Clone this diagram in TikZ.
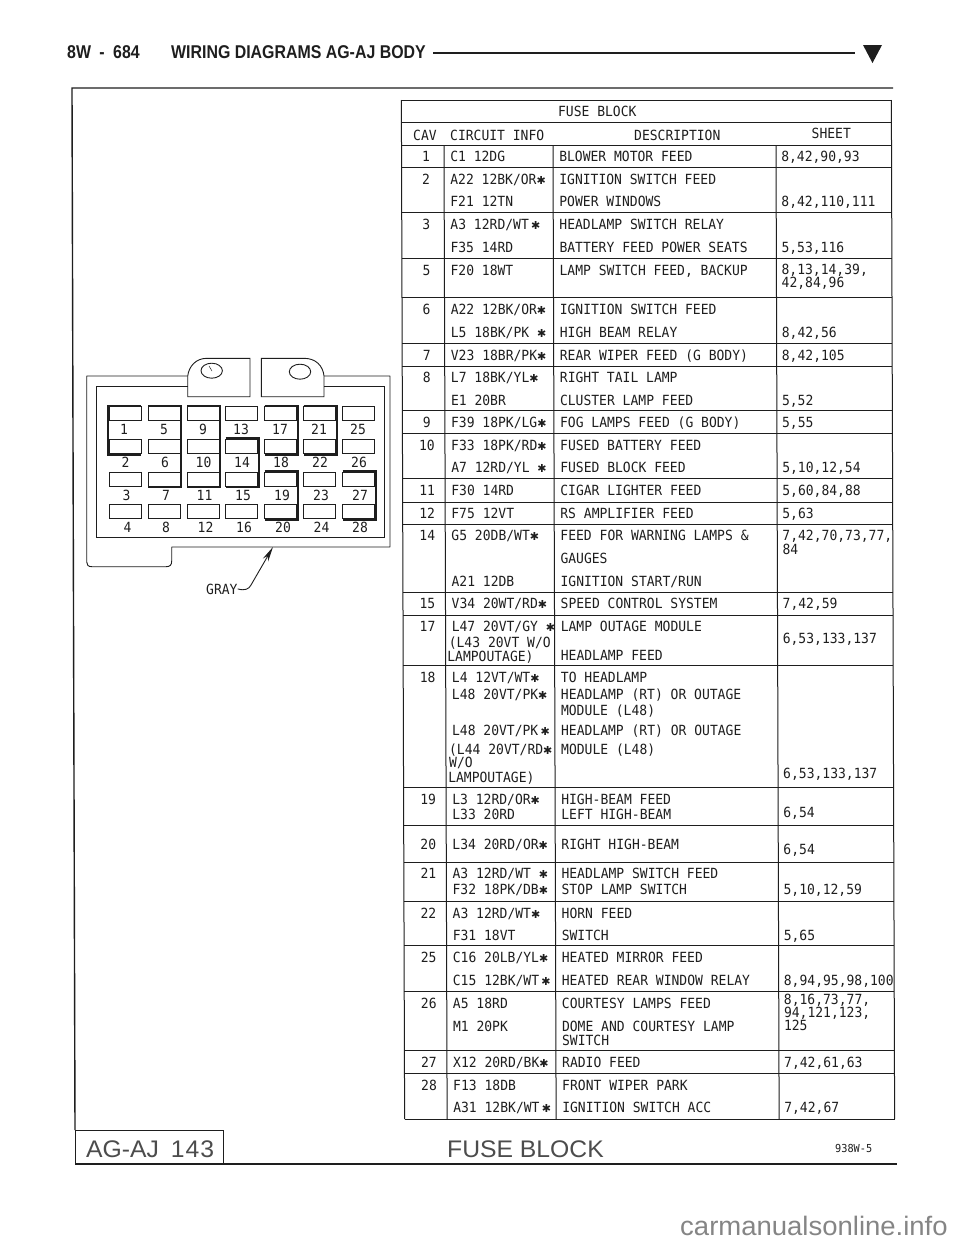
\documentclass[tikz,border=0pt]{standalone}
\usepackage{fontspec}
\usetikzlibrary{arrows.meta}
\newfontfamily\cad[FakeStretch=0.93]{DejaVu Sans Mono}
\newfontfamily\djv{DejaVu Sans}
\newfontfamily\hdr[FakeStretch=0.86]{Liberation Sans}
\newfontfamily\thinsans[FakeStretch=1.03]{Liberation Sans}
\newcommand\st{{\djv\fontsize{11}{11}\selectfont ✱}}
\newcount\tcnt
\newcommand\T[3]{\global\advance\tcnt 1 \node[cadt] (t\the\tcnt) at (#1,#2) {#3};}
\newcommand\C[2]{\global\advance\tcnt 1 \node[cadc] (t\the\tcnt) at (426,#1) {#2};}
\newcommand\A[2]{\T{450}{#1}{#2}}
\newcommand\B[2]{\T{559}{#1}{#2}}
\newcommand\D[2]{\T{781}{#1}{#2}}
\definecolor{ink}{HTML}{1E1E1E}
\tikzset{
  cadt/.style={inner sep=0pt,anchor=base west,text=ink,font=\cad\fontsize{14}{14}\selectfont},
  cadc/.style={inner sep=0pt,anchor=base,text=ink,font=\cad\fontsize{14}{14}\selectfont},
  rule/.style={draw=ink,line width=1pt},
  frameline/.style={draw=ink,line width=1.4pt},
  thick rule/.style={draw=ink,line width=2.1pt,line join=miter},
  slot/.style={draw=ink,line width=0.8pt},
  body/.style={draw=ink,line width=0.9pt},
}
\begin{document}
\begin{tikzpicture}[x=1pt,y=-1pt]
\fill[white] (0,0) rectangle (960,1242);
\useasboundingbox (0,0) rectangle (960,1242);
% page header
\node[inner sep=0,anchor=base west,text=ink,font=\hdr\bfseries\fontsize{18.5}{18.5}\selectfont] (h1) at (67,58) {8W\hspace{4pt} -\hspace{4pt} 684};
\node[inner sep=0,anchor=base west,text=ink,font=\hdr\bfseries\fontsize{18.5}{18.5}\selectfont] (h2) at (171,58) {WIRING DIAGRAMS AG-AJ BODY};
\coordinate (hlA) at (433,52.7);
\coordinate (hlB) at (855,52.7);
\draw[draw=ink,line width=2.4pt] (hlA) -- (hlB);
\fill[ink] (863,45) -- (882,45) -- (872.5,63) -- cycle;
% page frame
\draw[frameline] (893,88) -- (72,88) -- (75,1130);
\draw[frameline] (75,1164) -- (897,1164);
\draw[rule] (75,1130) rectangle (223.5,1164);
\node[inner sep=0,anchor=base west,text=black!70,font=\thinsans\fontsize{24}{24}\selectfont] (tb1) at (86,1157) {AG-AJ\hspace{5pt} 1\hspace{1pt}4\hspace{1pt}3};
\node[inner sep=0,anchor=base west,text=black!70,font=\thinsans\fontsize{24}{24}\selectfont] (tb2) at (447,1157) {FUSE BLOCK};
\node[inner sep=0,anchor=base west,text=ink,font=\cad\fontsize{11}{11}\selectfont] (tb3) at (835,1152) {938W-5};
\node[inner sep=0,anchor=base west,text=black!48,font=\thinsans\fontsize{26.7}{26.7}\selectfont] (wm) at (680,1235) {carmanualsonline.info};
% connector drawing
\begin{scope}
\draw[body,line join=round]
  (187.7,376) -- (86.7,376) -- (86.7,562)
  .. controls (86.7,565) and (88,566.7) .. (92,566.7)
  -- (166,566.7) .. controls (170,566.7) and (171.7,565) .. (171.7,561)
  -- (171.7,547) -- (390,547) -- (390,376) -- (324,376);
\draw[body] (187.7,386.7) -- (96,386.7) -- (96,537.3) -- (384.3,537.3) -- (384.3,386.7) -- (324,386.7);
\draw[body] (187.7,396.7) -- (187.7,376) .. controls (189,366) and (196,358.3) .. (207,358.3)
  -- (250,358.3) -- (250,396.7) -- cycle;
\draw[body] (261.3,358.3) -- (304,358.3) .. controls (316,358.3) and (323,366) .. (324,376)
  -- (324,396.7) -- (261.3,396.7) -- cycle;
\draw[body] (211.7,370.7) ellipse [x radius=10.7,y radius=7.5];
\draw[body,line width=0.5pt] (209,366) -- (212,371);
\draw[body] (300,371.7) ellipse [x radius=10.7,y radius=7.5];
% slots
\foreach \cx [count=\ci from 0] in {109.3,148.3,187,225.7,264.7,303.7,342.7}
  \foreach \ry in {406.7,439.3,472,504.3}
    \draw[slot] (\cx,\ry) rectangle ++(32,14);
% cavity numbers
\foreach \num/\nx/\ny in {1/124/434,5/164/434,9/203/434,13/241/434,17/280/434,21/319/434,25/358/434,
  2/125.5/467.7,6/165/467.7,10/203.5/467.7,14/242/467.7,18/281/467.7,22/320/467.7,26/359/467.7,
  3/126.5/500,7/166/500,11/204.5/500,15/243/500,19/282/500,23/321/500,27/360/500,
  4/127.5/532.3,8/166/532.3,12/205.5/532.3,16/244/532.3,20/283/532.3,24/321.5/532.3,28/360/532.3}
  \node[cadc] (n\num) at (\nx,\ny) {\num};
% thick brackets
\draw[thick rule] (141,405.7) -- (108,405.7) -- (108,455) -- (141,455);
\draw[thick rule] (148.3,405.7) -- (181,405.7) -- (181,487.3) -- (148.3,487.3);
\draw[thick rule] (187,405.7) -- (220,405.7) -- (220,487.3) -- (187,487.3);
\draw[thick rule] (225.7,438.3) -- (258.7,438.3) -- (258.7,487.3) -- (225.7,487.3);
\draw[thick rule] (264.7,405.7) -- (298.3,405.7) -- (298.3,455) -- (264.7,455);
\draw[thick rule] (303.7,405.7) -- (336.7,405.7) -- (336.7,455) -- (303.7,455);
\draw[thick rule] (264.7,470.7) -- (298.3,470.7) -- (298.3,520) -- (264.7,520);
\draw[thick rule] (342.7,470.7) -- (375.7,470.7) -- (375.7,520) -- (342.7,520);
% GRAY leader
\node[cadt] (gray) at (206,594) {GRAY};
\coordinate (graytip) at (273,547);
\draw[draw=ink,line width=0.9pt,-{Stealth[length=15pt,width=6pt]}] (gray.east) .. controls (245,591) and (249,589) .. (251,585) -- (graytip);
\end{scope}
% table
\begin{scope}[xshift=-0.46pt,xslant=-0.0032]
\draw[rule] (401.5,100) -- (891.5,100);
\draw[rule] (401.5,100) -- (401.5,1119);
\draw[rule] (891.5,100) -- (891.5,1119);
\foreach \y in {122.7,145,167.7,212.7,258,297,343,366,410.7,433,478,502,524,592,615,665,787,825,862,901,945,991,1050,1073,1119}
  \draw[rule] (401.5,\y) -- (891.5,\y);
\foreach \x in {444,553,776}
  \draw[rule] (\x,145) -- (\x,1119);
\T{558}{116}{FUSE BLOCK}
\T{413}{140}{CAV}
\T{450}{140}{CIRCUIT INFO}
\T{634}{140}{DESCRIPTION}
\T{811.5}{138.7}{SHEET}
\C{161.7}{1}\A{161.7}{C1 12DG}\B{161.7}{BLOWER MOTOR FEED}\D{161.7}{8,42,90,93}
\C{184.3}{2}\A{184.3}{A22 12BK/OR\st}\B{184.3}{IGNITION SWITCH FEED}
\A{206.7}{F21 12TN}\B{206.7}{POWER WINDOWS}\D{206.7}{8,42,110,111}
\C{229.3}{3}\A{229.3}{A3 12RD/WT\,\st}\B{229.3}{HEADLAMP SWITCH RELAY}
\A{252.3}{F35 14RD}\B{252.3}{BATTERY FEED POWER SEATS}\D{252.3}{5,53,116}
\C{275}{5}\A{275}{F20 18WT}\B{275}{LAMP SWITCH FEED, BACKUP}\D{274}{8,13,14,39,}\D{287.3}{42,84,96}
\C{314.3}{6}\A{314.3}{A22 12BK/OR\st}\B{314.3}{IGNITION SWITCH FEED}
\A{337.3}{L5 18BK/PK \st}\B{337.3}{HIGH BEAM RELAY}\D{337.3}{8,42,56}
\C{360}{7}\A{360}{V23 18BR/PK\st}\B{360}{REAR WIPER FEED (G BODY)}\D{360}{8,42,105}
\C{382.3}{8}\A{382.3}{L7 18BK/YL\st}\B{382.3}{RIGHT TAIL LAMP}
\A{405}{E1 20BR}\B{405}{CLUSTER LAMP FEED}\D{405}{5,52}
\C{427.7}{9}\A{427.7}{F39 18PK/LG\st}\B{427.7}{FOG LAMPS FEED (G BODY)}\D{427.7}{5,55}
\C{450}{10}\A{450}{F33 18PK/RD\st}\B{450}{FUSED BATTERY FEED}
\A{472.7}{A7 12RD/YL \st}\B{472.7}{FUSED BLOCK FEED}\D{472.7}{5,10,12,54}
\C{495.3}{11}\A{495.3}{F30 14RD}\B{495.3}{CIGAR LIGHTER FEED}\D{495.3}{5,60,84,88}
\C{518}{12}\A{518}{F75 12VT}\B{518}{RS AMPLIFIER FEED}\D{518}{5,63}
\C{540.7}{14}\A{540.7}{G5 20DB/WT\st}\B{540.7}{FEED FOR WARNING LAMPS \&}\D{540}{7,42,70,73,77,}\D{554}{84}
\B{563.3}{GAUGES}
\A{586}{A21 12DB}\B{586}{IGNITION START/RUN}
\C{608.7}{15}\A{608.7}{V34 20WT/RD\st}\B{608.7}{SPEED CONTROL SYSTEM}\D{608.7}{7,42,59}
\C{631.3}{17}\A{631.3}{L47 20VT/GY \st}\B{631.3}{LAMP OUTAGE MODULE}
\T{447}{647.3}{(L43 20VT W/O}\D{643.7}{6,53,133,137}
\T{445.5}{661}{LAMPOUTAGE)}\B{660}{HEADLAMP FEED}
\C{682}{18}\A{682}{L4 12VT/WT\st}\B{682}{TO HEADLAMP}
\A{699}{L48 20VT/PK\st}\B{699}{HEADLAMP (RT) OR OUTAGE}
\B{715.7}{MODULE (L48)}
\A{735.3}{L48 20VT/PK\,\st}\B{735.3}{HEADLAMP (RT) OR OUTAGE}
\T{447}{754}{(L44 20VT/RD\st}\B{754}{MODULE (L48)}
\T{447}{767.7}{W/O}
\T{446}{782}{LAMPOUTAGE)}\D{778.7}{6,53,133,137}
\C{804.3}{19}\A{804.3}{L3 12RD/OR\st}\B{804.3}{HIGH-BEAM FEED}
\A{819.7}{L33 20RD}\B{819.7}{LEFT HIGH-BEAM}\D{817.3}{6,54}
\C{849.7}{20}\A{849.7}{L34 20RD/OR\st}\B{849.7}{RIGHT HIGH-BEAM}\D{854.7}{6,54}
\C{878.7}{21}\A{878.7}{A3 12RD/WT \st}\B{878.7}{HEADLAMP SWITCH FEED}
\A{894.7}{F32 18PK/DB\st}\B{894.7}{STOP LAMP SWITCH}\D{894.7}{5,10,12,59}
\C{918}{22}\A{918}{A3 12RD/WT\st}\B{918}{HORN FEED}
\A{940.7}{F31 18VT}\B{940.7}{SWITCH}\D{940.7}{5,65}
\C{962.7}{25}\A{962.7}{C16 20LB/YL\st}\B{962.7}{HEATED MIRROR FEED}
\A{985}{C15 12BK/WT\,\st}\B{985}{HEATED REAR WINDOW RELAY}\D{985}{8,94,95,98,100}
\C{1008.3}{26}\A{1008.3}{A5 18RD}\B{1008.3}{COURTESY LAMPS FEED}\D{1004}{8,16,73,77,}\D{1017.3}{94,121,123,}
\A{1031}{M1 20PK}\B{1031}{DOME AND COURTESY LAMP}\D{1030.7}{125}
\B{1045}{SWITCH}
\C{1067.3}{27}\A{1067.3}{X12 20RD/BK\st}\B{1067.3}{RADIO FEED}\D{1067.3}{7,42,61,63}
\C{1090}{28}\A{1090}{F13 18DB}\B{1090}{FRONT WIPER PARK}
\A{1112}{A31 12BK/WT\,\st}\B{1112}{IGNITION SWITCH ACC}\D{1112}{7,42,67}
\end{scope}
\end{tikzpicture}
\end{document}
